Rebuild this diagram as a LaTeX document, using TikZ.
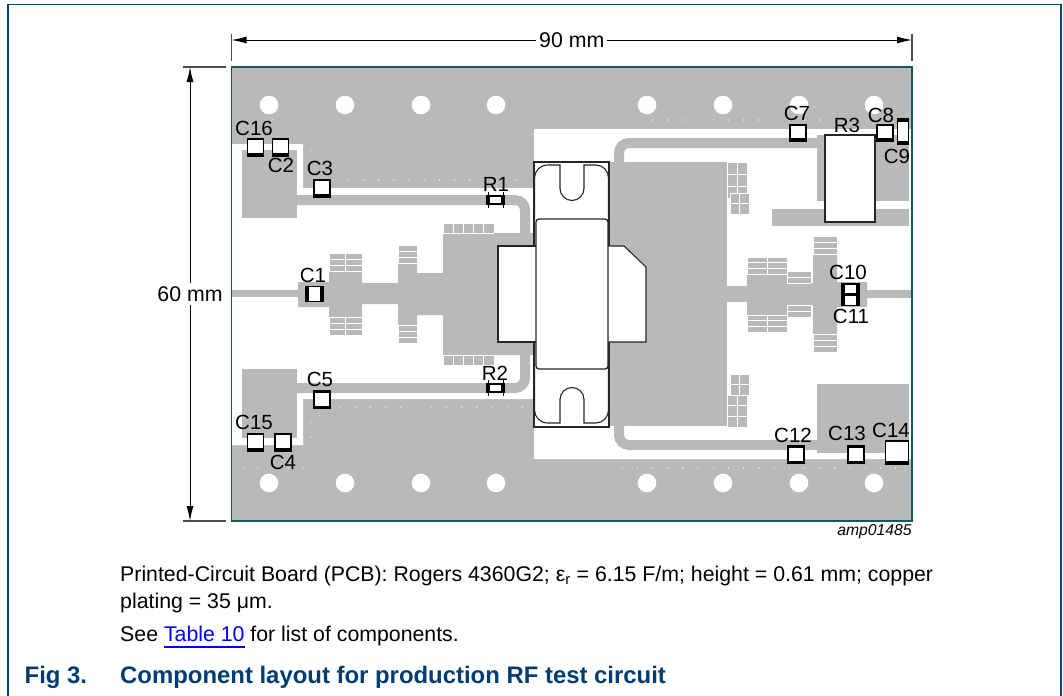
\documentclass[tikz,border=0pt]{standalone}
\usepackage{fontspec}
\setmainfont{Liberation Sans}
\usetikzlibrary{arrows.meta}
\definecolor{cu}{HTML}{B9B9B9}
\definecolor{frm}{HTML}{004680}
\definecolor{brd}{HTML}{12595C}
\definecolor{ttl}{HTML}{003C71}
\newcommand{\meshgrid}[6]{%
  \fill[cu] (#1,#2) rectangle (#3,#4);
  \pgfmathsetmacro{\mdx}{(#3-#1)/#5}
  \pgfmathsetmacro{\mdy}{(#4-#2)/#6}
  \foreach \mi in {0,...,#5}{\draw[meshline] ({#1+\mi*\mdx},#2) -- ({#1+\mi*\mdx},#4);}
  \foreach \mj in {0,...,#6}{\draw[meshline] (#1,{#2+\mj*\mdy}) -- (#3,{#2+\mj*\mdy});}
}
\newcommand{\compnode}[5]{\node[compbox,minimum width=#4,minimum height=#5] (#1) at (#2,#3) {};}
\newcommand{\cbot}[5]{\compnode{#1}{#2}{#3}{#4}{#5}\draw[compthick] (#1.south west) -- (#1.south east);\draw[compmed] (#1.north west) -- (#1.north east);}
\newcommand{\csides}[5]{\compnode{#1}{#2}{#3}{#4}{#5}\draw[compthick] (#1.south west) -- (#1.north west);\draw[compthick] (#1.south east) -- (#1.north east);}
\newcommand{\ctopbot}[5]{\compnode{#1}{#2}{#3}{#4}{#5}\draw[compthick] (#1.south west) -- (#1.south east);\draw[compthick] (#1.north west) -- (#1.north east);}
\begin{document}
\begin{tikzpicture}[x=1pt,y=-1pt,
  meshline/.style={white,line width=0.8pt},
  compbox/.style={draw=black,fill=white,line width=1.1pt,inner sep=0pt,rectangle},
  compthick/.style={black,line width=3.4pt},
  compmed/.style={black,line width=2.6pt},
  whisker/.style={black,line width=0.7pt},
  lbl/.style={font=\fontsize{20.5}{21}\selectfont,inner sep=0pt},
  dimtxt/.style={font=\fontsize{21.3}{22}\selectfont,fill=white,inner sep=3pt},
  dimline/.style={black,line width=1pt,{Latex[length=15pt,width=7pt]}-{Latex[length=15pt,width=7pt]}},
  extline/.style={black!70,line width=1.2pt},
  para/.style={font=\fontsize{21.3}{22}\selectfont,inner sep=0pt,anchor=base west},
  ttlsty/.style={font=\fontsize{23.9}{24}\selectfont\bfseries,text=ttl,inner sep=0pt,anchor=base west},
  pkg/.style={draw=black!85,line width=1.1pt,fill=white},
  trace/.style={cu,line width=10pt,rounded corners=10pt}]
\useasboundingbox (0,0) rectangle (1063,696);
% frame
\draw[frm,line width=1.3pt] (8,696) -- (8,4.5) -- (1061,4.5) -- (1061,696);
% board
\fill[cu] (231.5,67) rectangle (912,521);
\fill[white] (231.5,144) -- (303,144) -- (303,188) -- (534,188) -- (534,129) -- (912,129) -- (912,459) -- (534,459) -- (534,399) -- (303,399) -- (303,445) -- (231.5,445) -- cycle;
% specks
\foreach \x in {333,348.2,...,520}{\fill[white] (\x,180) circle (0.7);}
\foreach \x in {340,355.2,...,530}{\fill[white] (\x,407) circle (0.7);}
\foreach \x in {273,288,303}{\fill[white] (\x,120) circle (0.7);}
\foreach \x in {243,258,273,288,303}{\fill[white] (\x,468) circle (0.7);}
\foreach \y in {136,150,422,437}{\fill[white] (311,\y) circle (0.7);}
\foreach \x in {622,637.2,...,820}{\fill[white] (\x,120) circle (0.7);}
\foreach \x in {622,637.2,...,900}{\fill[white] (\x,468) circle (0.7);}
% holes
\foreach \x in {269,345,421,496,647,723,799,874}{
  \fill[white] (\x,105) circle (9.3);
  \fill[white] (\x,483) circle (9.3);
}
% left copper
\fill[cu] (242,150) rectangle (297,218);
\fill[cu] (242,369) rectangle (297,438);
\draw[trace] (297,200) -- (525,200) -- (525,233);
\draw[trace] (297,388) -- (525,388) -- (525,355);
\fill[cu] (231.5,290) rectangle (298,297);
\fill[cu] (298,282) -- (329,282) -- (329,253) -- (362,253) -- (362,283) -- (398,283) -- (398,245) -- (417,245) -- (417,273) -- (443,273) -- (443,233) -- (534,233) -- (534,355) -- (443,355) -- (443,315) -- (417,315) -- (417,343) -- (398,343) -- (398,304) -- (362,304) -- (362,335) -- (329,335) -- (329,307) -- (298,307) -- cycle;
\meshgrid{329}{253}{362}{271}{2}{3}
\meshgrid{329}{317}{362}{335}{2}{3}
\meshgrid{398}{245}{417}{263}{1}{3}
\meshgrid{398}{325}{417}{343}{1}{3}
\meshgrid{443}{223}{494}{233}{5}{1}
\meshgrid{443}{355}{494}{365}{5}{1}
% right copper
\fill[cu] (609,162) rectangle (727,426);
\draw[trace] (619,162) -- (619,143) -- (817,143);
\draw[trace] (619,426) -- (619,445) -- (817,445);
\meshgrid{727}{162}{747}{198}{2}{3}
\meshgrid{730}{193}{749}{214}{2}{2}
\meshgrid{730}{374}{749}{395}{2}{2}
\meshgrid{727}{395}{747}{427}{2}{3}
\fill[cu] (727,286) rectangle (747,302);
\fill[cu] (747,257) -- (787,257) -- (787,271) -- (811,271) -- (811,283) -- (813,283) -- (813,236) -- (837,236) -- (837,282) -- (867,282) -- (867,290) -- (912,290) -- (912,298) -- (867,298) -- (867,307) -- (837,307) -- (837,352) -- (813,352) -- (813,305) -- (811,305) -- (811,317) -- (787,317) -- (787,332) -- (747,332) -- cycle;
\meshgrid{747}{257}{787}{274}{2}{3}
\meshgrid{747}{315}{787}{332}{2}{3}
\meshgrid{787}{271}{811}{283}{1}{2}
\meshgrid{787}{305}{811}{317}{1}{2}
\meshgrid{813}{236}{837}{254}{1}{3}
\meshgrid{813}{334}{837}{352}{1}{3}
\fill[cu] (817,135) rectangle (909,201);
\fill[cu] (772,209) rectangle (909,226);
\fill[cu] (817,384) rectangle (909,453);
% board outline
\draw[brd,line width=1.3pt] (231.5,67) rectangle (912,521);
% device
\draw[pkg] (534,162) rectangle (609,427);
\draw[pkg] (560,165) -- (548,165) .. controls (540,165) and (534.5,171) .. (534.5,178) -- (534.5,410) .. controls (534.5,417) and (540,423) .. (548,423) -- (560,423) -- (560,399.5) arc[start angle=180,end angle=360,radius=12] -- (584,423) -- (596,423) .. controls (603,423) and (608.5,417) .. (608.5,410) -- (608.5,178) .. controls (608.5,171) and (603,165) .. (596,165) -- (584,165) -- (584,188.5) arc[start angle=0,end angle=180,radius=12] -- cycle;
\draw[pkg] (536,246) -- (498,246) -- (498,342) -- (536,342);
\draw[pkg] (608,246) -- (624,246) -- (646,267) -- (646,342) -- (608,342);
\draw[pkg,rounded corners=3pt,line width=1.3pt] (536,219) rectangle (608,369);
% R3
\node[draw=black!85,fill=white,line width=1.2pt,minimum width=50pt,minimum height=87pt,inner sep=0pt] (R3box) at (850,178.5) {};
% components
\cbot{cC16}{255.5}{147}{16}{15}
\cbot{cC2}{280.5}{147}{16}{15}
\cbot{cC3}{322}{188}{16}{15}
\csides{cC1}{314.5}{294}{14}{15}
\csides{cR1}{495.5}{200}{14}{8}
\csides{cR2}{495.5}{388}{14}{8}
\draw[whisker] ([yshift=-3pt]cR1.south west) -- ([yshift=3pt]cR1.north west) ([yshift=-3pt]cR1.south east) -- ([yshift=3pt]cR1.north east);
\draw[whisker] ([yshift=-3pt]cR2.south west) -- ([yshift=3pt]cR2.north west) ([yshift=-3pt]cR2.south east) -- ([yshift=3pt]cR2.north east);
\cbot{cC5}{322}{399.5}{16}{15}
\cbot{cC15}{255.5}{442}{16}{15}
\cbot{cC4}{283}{442}{16}{15}
\cbot{cC7}{798}{132.5}{16}{14}
\cbot{cC8}{885}{132.5}{16}{14}
\ctopbot{cC9}{903}{131.5}{11}{22}
\csides{cC10}{850.5}{289}{14}{10}
\csides{cC11}{850.5}{300.5}{14}{10}
\cbot{cC12}{796}{454.5}{16}{15}
\cbot{cC13}{856}{454.5}{16}{15}
\cbot{cC14}{897}{452}{23}{21}
% labels
\node[lbl] (lC16) at (254,128) {C16};
\node[lbl] (lC2) at (281,165) {C2};
\node[lbl] (lC3) at (320,168) {C3};
\node[lbl] (lR1) at (496,184) {R1};
\node[lbl] (lC1) at (313,275) {C1};
\node[lbl] (lC5) at (320,379) {C5};
\node[lbl] (lR2) at (495,373) {R2};
\node[lbl] (lC15) at (254,422) {C15};
\node[lbl] (lC4) at (283,462) {C4};
\node[lbl] (lC7) at (797,113) {C7};
\node[lbl] (lR3) at (847,125) {R3};
\node[lbl] (lC8) at (881,115) {C8};
\node[lbl] (lC9) at (897,156) {C9};
\node[lbl] (lC10) at (848,272) {C10};
\node[lbl] (lC11) at (851,316) {C11};
\node[lbl] (lC12) at (793,435) {C12};
\node[lbl] (lC13) at (847,433) {C13};
\node[lbl] (lC14) at (891,430) {C14};
% dimensions
\coordinate (xa) at (231.5,40);
\coordinate (xb) at (912,40);
\coordinate (ya) at (190,67);
\coordinate (yb) at (190,521);
\draw[extline] (231.5,34) -- (231.5,61);
\draw[extline] (912,34) -- (912,61);
\draw[extline] (183,67) -- (226,67);
\draw[extline] (183,521) -- (226,521);
\draw[dimline] (xa) -- (xb) node[midway,dimtxt] (dimw) {90 mm};
\draw[dimline] (ya) -- (yb) node[midway,dimtxt] (dimh) {60 mm};
\node[font=\fontsize{15.7}{16}\selectfont\itshape,inner sep=0pt] (amp) at (874.5,532) {amp01485};
% text
\node[para] (p1) at (120,581) {Printed-Circuit Board (PCB): Rogers 4360G2; ε\textsubscript{r} = 6.15 F/m; height = 0.61 mm; copper};
\node[para] (p2) at (120,608) {plating = 35 μm.};
\node[para] (p3) at (120,641) {See \textcolor{blue}{Table 10} for list of components.};
\draw[blue,line width=1.6pt] (164,647) -- (245,647);
\node[ttlsty] (f1) at (24.5,683) {Fig 3.};
\node[ttlsty] (f2) at (120,683) {Component layout for production RF test circuit};
\end{tikzpicture}
\end{document}
